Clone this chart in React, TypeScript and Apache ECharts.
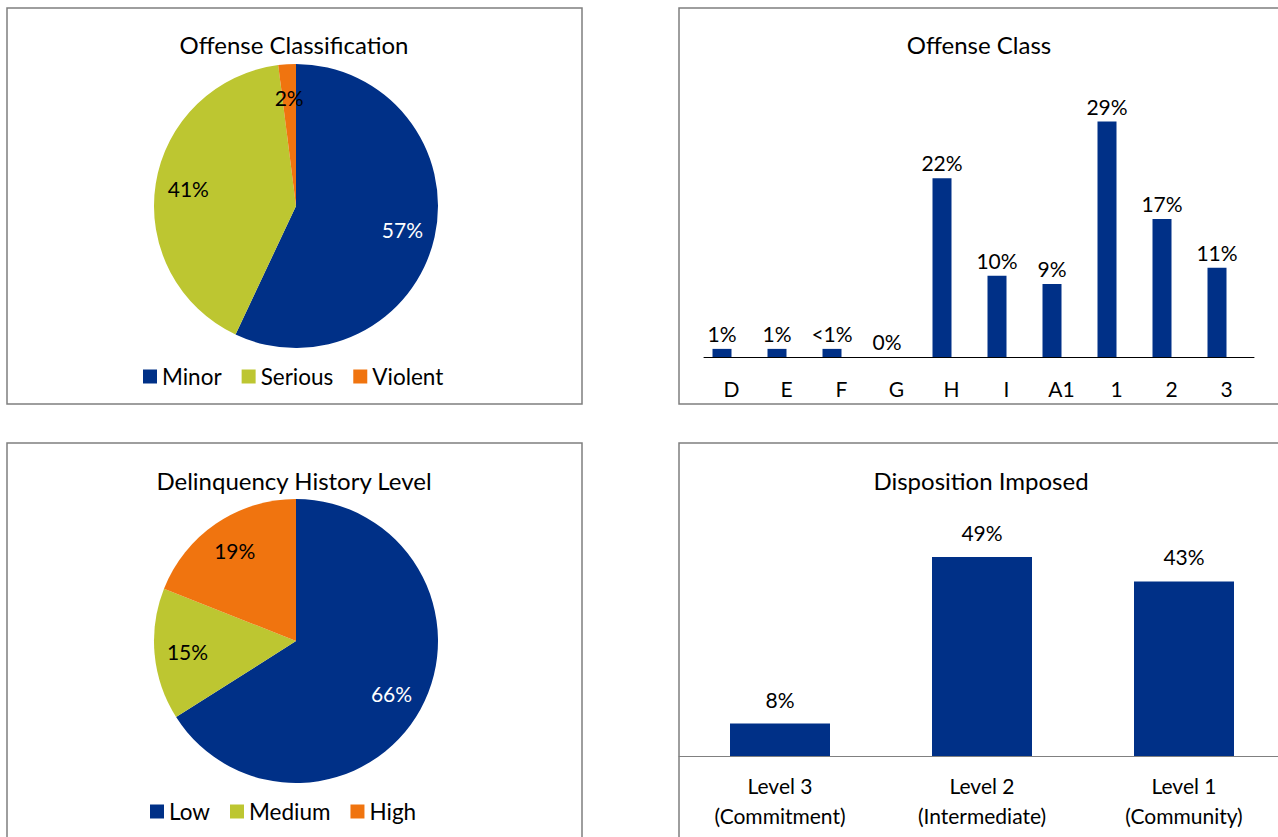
import React, { useEffect, useRef } from 'react';
import * as echarts from 'echarts';

const offenseClassificationNames = ['Minor', 'Serious', 'Violent'];
const offenseClassificationValues = [57, 41, 2];

const offenseClassCategories = ['D', 'E', 'F', 'G', 'H', 'I', 'A1', '1', '2', '3'];
const offenseClassValues = [1, 1, 1, 0, 22, 10, 9, 29, 17, 11];
const offenseClassLabels = ['1%', '1%', '<1%', '0%', '22%', '10%', '9%', '29%', '17%', '11%'];

const historyNames = ['Low', 'Medium', 'High'];
const historyValues = [66, 15, 19];

const dispositionCategories = ['Level 3\n(Commitment)', 'Level 2\n(Intermediate)', 'Level 1\n(Community)'];
const dispositionValues = [8, 49, 43];

const BLUE = '#003087';
const GREEN = '#BDC631';
const ORANGE = '#F0740F';
const PIE_COLORS = [BLUE, GREEN, ORANGE];
const FONT = 'Lato, "Noto Sans", sans-serif';
const FRAME = '#7f7f7f';
const CANVAS_W = 1320;

function pieData(names: string[], values: number[]) {
  return names.map((n, i) => ({ name: n, value: values[i], itemStyle: { color: PIE_COLORS[i] } }));
}

function labelPie(names: string[], values: number[], center: number[]) {
  return {
    type: 'pie',
    silent: true,
    center,
    radius: [0, 212],
    startAngle: 90,
    clockwise: true,
    z: 5,
    legendHoverLink: false,
    itemStyle: { color: 'rgba(0,0,0,0)', borderWidth: 0 },
    label: {
      show: true,
      position: 'inside',
      formatter: '{c}%',
      fontFamily: FONT,
      fontSize: 21,
      color: '#000',
    },
    labelLine: { show: false },
    data: names.map((n, i) => ({
      name: n,
      value: values[i],
      itemStyle: { color: 'rgba(0,0,0,0)' },
      label: { color: i === 0 ? '#ffffff' : '#000000' },
    })),
  };
}

function legendFor(names: string[], left: number, top: number) {
  return {
    left,
    top,
    orient: 'horizontal',
    padding: 0,
    itemWidth: 14,
    itemHeight: 14,
    itemGap: 20,
    icon: 'rect',
    selectedMode: false,
    textStyle: { fontFamily: FONT, fontSize: 22.5, color: '#000' },
    data: names.map((n, i) => ({ name: n, itemStyle: { color: PIE_COLORS[i] } })),
  };
}

export default function App() {
  const ref = useRef<HTMLDivElement>(null);

  useEffect(() => {
    if (!ref.current) return;
    const chart = echarts.init(ref.current, null, { renderer: 'svg' });
    const titleStyle = { fontFamily: FONT, fontSize: 24, fontWeight: 'normal', color: '#000' };

    chart.setOption({
      animation: false,
      backgroundColor: '#ffffff',
      title: [
        { text: 'Offense Classification', left: 294, top: 32, textAlign: 'center', padding: 0, textStyle: titleStyle },
        { text: 'Offense Class', left: 979, top: 32, textAlign: 'center', padding: 0, textStyle: titleStyle },
        { text: 'Delinquency History Level', left: 294, top: 468, textAlign: 'center', padding: 0, textStyle: titleStyle },
        { text: 'Disposition Imposed', left: 981, top: 468, textAlign: 'center', padding: 0, textStyle: titleStyle },
      ],
      legend: [
        legendFor(offenseClassificationNames, 143, 365),
        legendFor(historyNames, 150, 800),
      ],
      graphic: [
        { type: 'rect', shape: { x: 7, y: 8, width: 575, height: 396 }, style: { fill: 'none', stroke: FRAME, lineWidth: 1.5 }, silent: true },
        { type: 'rect', shape: { x: 679, y: 8, width: 620, height: 396 }, style: { fill: 'none', stroke: FRAME, lineWidth: 1.5 }, silent: true },
        { type: 'rect', shape: { x: 7, y: 443, width: 575, height: 420 }, style: { fill: 'none', stroke: FRAME, lineWidth: 1.5 }, silent: true },
        { type: 'rect', shape: { x: 679, y: 443, width: 620, height: 420 }, style: { fill: 'none', stroke: FRAME, lineWidth: 1.5 }, silent: true },
      ],
      grid: [
        { left: 704, top: 72.8, width: 550, height: 284.2, containLabel: false },
        { left: 679, top: 512.4, width: 606, height: 243.6, containLabel: false },
      ],
      xAxis: [
        {
          type: 'category',
          gridIndex: 0,
          data: offenseClassCategories,
          axisTick: { show: false },
          axisLine: { lineStyle: { color: '#000', width: 1 } },
          axisLabel: { fontFamily: FONT, fontSize: 21, color: '#000', margin: 21, interval: 0 },
        },
        {
          type: 'category',
          gridIndex: 1,
          data: dispositionCategories,
          axisTick: { show: false },
          axisLine: { lineStyle: { color: '#808080', width: 1 } },
          axisLabel: { fontFamily: FONT, fontSize: 21, color: '#000', margin: 14, lineHeight: 30, interval: 0 },
        },
      ],
      yAxis: [
        { type: 'value', gridIndex: 0, min: 0, max: 35, show: false, splitLine: { show: false } },
        { type: 'value', gridIndex: 1, min: 0, max: 60, show: false, splitLine: { show: false } },
      ],
      series: [
        {
          type: 'pie',
          center: [296, 206],
          radius: [0, 142],
          startAngle: 90,
          clockwise: true,
          silent: true,
          label: { show: false },
          labelLine: { show: false },
          data: pieData(offenseClassificationNames, offenseClassificationValues),
        },
        {
          type: 'pie',
          center: [296, 641],
          radius: [0, 142],
          startAngle: 90,
          clockwise: true,
          silent: true,
          label: { show: false },
          labelLine: { show: false },
          data: pieData(historyNames, historyValues),
        },
        labelPie(offenseClassificationNames, offenseClassificationValues, [296, 206]),
        labelPie(historyNames, historyValues, [296, 641]),
        {
          type: 'bar',
          name: 'Offense Class',
          xAxisIndex: 0,
          yAxisIndex: 0,
          barWidth: 19,
          barGap: '0%',
          silent: true,
          itemStyle: { color: BLUE },
          label: {
            show: true,
            position: 'top',
            distance: 5,
            fontFamily: FONT,
            fontSize: 21,
            color: '#000',
            formatter: (p: any) => offenseClassLabels[p.dataIndex],
          },
          data: offenseClassValues,
        },
        {
          type: 'bar',
          name: 'blank',
          xAxisIndex: 0,
          yAxisIndex: 0,
          barWidth: 19,
          barGap: '0%',
          silent: true,
          itemStyle: { color: 'rgba(0,0,0,0)' },
          data: offenseClassCategories.map(() => null),
        },
        {
          type: 'bar',
          name: 'Disposition Imposed',
          xAxisIndex: 1,
          yAxisIndex: 1,
          barWidth: 100,
          silent: true,
          itemStyle: { color: BLUE },
          label: {
            show: true,
            position: 'top',
            distance: 14,
            fontFamily: FONT,
            fontSize: 21,
            color: '#000',
            formatter: '{c}%',
          },
          data: dispositionValues,
        },
      ],
    });

    return () => chart.dispose();
  }, []);

  return (
    <div
      style={{ position: 'absolute', left: 0, top: 0, width: 1278, height: 837, overflow: 'hidden', background: '#fff' }}
    >
      <div ref={ref} style={{ width: CANVAS_W, height: 837 }} />
    </div>
  );
}
